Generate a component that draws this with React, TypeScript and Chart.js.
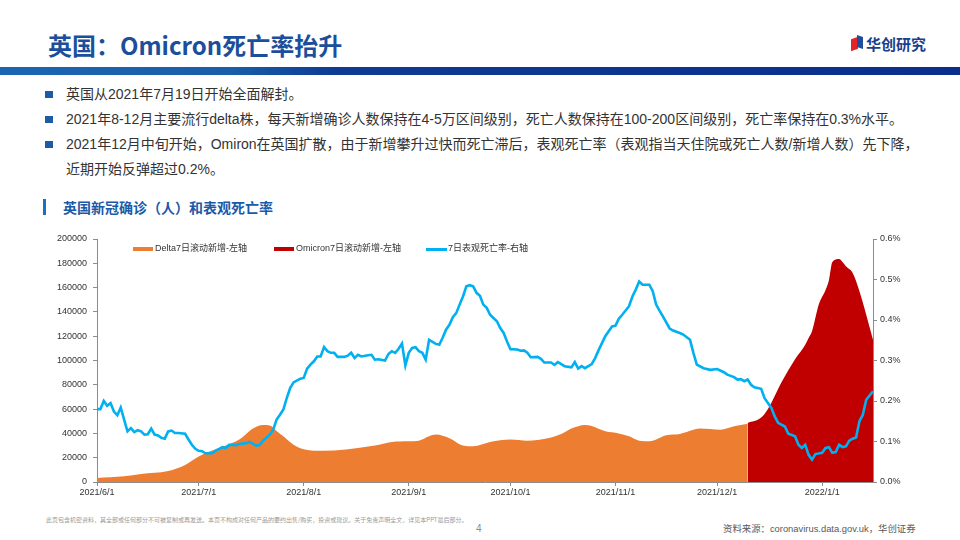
import React, { useEffect, useRef } from "react";
import { Chart, registerables } from "chart.js";

Chart.register(...registerables);

// ---------- data ----------
const startDate = Date.UTC(2021, 5, 1);
const tickLabels = ["2021/6/1", "2021/7/1", "2021/8/1", "2021/9/1", "2021/10/1", "2021/11/1", "2021/12/1", "2022/1/1"];
const lastDay = 229; // 2022/1/16

const deltaDays = [0, 8, 13, 21, 26, 30, 33, 37, 42, 46, 49, 51, 53, 55, 58, 61, 64, 70, 77, 82, 87, 92, 95, 98, 100, 104, 108, 111, 116, 122, 127, 133, 137, 140, 144, 146, 150, 154, 157, 160, 163, 168, 172, 178, 184, 188, 192];
const deltaCases = [3300, 4700, 6600, 9000, 14000, 21000, 25000, 29000, 35000, 44000, 47000, 46500, 42000, 37600, 30700, 27000, 25800, 26000, 28000, 30000, 33000, 33500, 34000, 37600, 39000, 36000, 30000, 29400, 33000, 35000, 34000, 36000, 39500, 44000, 47000, 46000, 41700, 40000, 37600, 34000, 33500, 38400, 39500, 44000, 43000, 45800, 48000];

const omicronDays = [192, 196, 198, 202, 206, 209, 210, 211, 213, 215, 216, 217, 219, 220, 221, 223, 225, 227, 229];
const omicronCases = [48500, 53000, 60000, 82000, 101000, 113000, 118500, 124000, 146000, 158000, 166000, 181000, 183500, 181000, 177500, 172000, 157000, 137700, 117000];

const rateDays = [0, 1, 2, 3, 4, 5, 6, 7, 8, 9, 10, 11, 12, 13, 14, 15, 16, 17, 18, 19, 20, 21, 22, 23, 24, 26, 27, 28, 29, 30, 31, 32, 34, 35, 37, 38, 39, 41, 42, 44, 45, 47, 48, 49, 51, 52, 53, 54, 55, 56, 57, 58, 60, 61, 62, 63, 64, 65, 66, 67, 68, 69, 70, 71, 73, 74, 75, 76, 77, 78, 80, 81, 82, 83, 85, 86, 87, 88, 89, 90, 91, 92, 93, 94, 95, 96, 97, 98, 100, 101, 102, 103, 104, 105, 106, 107, 108, 109, 110, 111, 112, 113, 114, 115, 116, 117, 118, 119, 120, 121, 122, 124, 125, 126, 127, 128, 130, 131, 132, 134, 135, 136, 137, 138, 140, 141, 142, 143, 144, 146, 147, 148, 150, 151, 152, 153, 154, 155, 157, 158, 159, 160, 161, 163, 164, 165, 166, 167, 169, 170, 172, 173, 175, 176, 177, 179, 181, 183, 185, 186, 188, 189, 190, 191, 192, 193, 194, 196, 197, 199, 200, 201, 203, 204, 206, 207, 208, 209, 210, 211, 212, 214, 215, 216, 217, 218, 219, 220, 221, 222, 223, 224, 225, 226, 227, 229];
const rateValues = [0.18, 0.18, 0.2, 0.188, 0.195, 0.174, 0.165, 0.184, 0.154, 0.125, 0.133, 0.123, 0.128, 0.125, 0.117, 0.118, 0.132, 0.117, 0.115, 0.109, 0.107, 0.125, 0.127, 0.121, 0.121, 0.119, 0.105, 0.092, 0.082, 0.077, 0.076, 0.071, 0.071, 0.077, 0.086, 0.084, 0.092, 0.091, 0.094, 0.096, 0.099, 0.09, 0.091, 0.102, 0.117, 0.129, 0.154, 0.166, 0.179, 0.207, 0.232, 0.246, 0.255, 0.257, 0.28, 0.29, 0.298, 0.31, 0.31, 0.333, 0.323, 0.319, 0.319, 0.309, 0.309, 0.312, 0.319, 0.306, 0.314, 0.31, 0.313, 0.314, 0.302, 0.303, 0.3, 0.316, 0.323, 0.319, 0.329, 0.342, 0.288, 0.319, 0.331, 0.333, 0.323, 0.319, 0.302, 0.351, 0.341, 0.339, 0.356, 0.376, 0.388, 0.407, 0.417, 0.438, 0.458, 0.483, 0.486, 0.483, 0.467, 0.46, 0.438, 0.43, 0.413, 0.405, 0.397, 0.38, 0.368, 0.347, 0.328, 0.327, 0.324, 0.325, 0.319, 0.308, 0.309, 0.304, 0.295, 0.295, 0.289, 0.296, 0.291, 0.286, 0.283, 0.296, 0.28, 0.286, 0.281, 0.291, 0.306, 0.325, 0.36, 0.372, 0.384, 0.386, 0.403, 0.413, 0.434, 0.458, 0.475, 0.495, 0.487, 0.487, 0.471, 0.438, 0.423, 0.409, 0.379, 0.374, 0.368, 0.364, 0.351, 0.319, 0.29, 0.281, 0.277, 0.279, 0.271, 0.265, 0.259, 0.253, 0.254, 0.249, 0.253, 0.24, 0.234, 0.23, 0.207, 0.183, 0.162, 0.146, 0.137, 0.119, 0.113, 0.092, 0.084, 0.092, 0.067, 0.055, 0.069, 0.072, 0.084, 0.086, 0.072, 0.074, 0.092, 0.086, 0.088, 0.102, 0.107, 0.11, 0.15, 0.166, 0.203, 0.224];

const leftMax = 200000;
const leftStep = 20000;
const rightMax = 0.6;
const rightStep = 0.1;

const seriesNames = ["Delta7日滚动新增-左轴", "Omicron7日滚动新增-左轴", "7日表观死亡率-右轴"];
const seriesColors = ["#ED7D31", "#C00000", "#00B0F0"];

const bullets = [
  "英国从2021年7月19日开始全面解封。",
  "2021年8-12月主要流行delta株，每天新增确诊人数保持在4-5万区间级别，死亡人数保持在100-200区间级别，死亡率保持在0.3%水平。",
  "2021年12月中旬开始，Omiron在英国扩散，由于新增攀升过快而死亡滞后，表观死亡率（表观指当天住院或死亡人数/新增人数）先下降，",
];
const bulletContinuation = "近期开始反弹超过0.2%。";

// ---------- helpers ----------
const dayOf = (s: string) => {
  const [y, m, d] = s.split("/").map(Number);
  return Math.round((Date.UTC(y, m - 1, d) - startDate) / 86400000);
};
const tickDays = tickLabels.map(dayOf);
const toPoints = (xs: number[], ys: number[]) => xs.map((x, i) => ({ x, y: ys[i] }));

const LATIN = '"Liberation Sans", Arial, "Noto Sans CJK SC", sans-serif';
const CJK = '"Noto Sans CJK SC", "Liberation Sans", sans-serif';
const axisFont = { family: LATIN, size: 9 };
const axisColor = "#8c8c8c";

function UKChart() {
  const ref = useRef<HTMLCanvasElement>(null);
  useEffect(() => {
    const chart = new Chart(ref.current!, {
      type: "line",
      data: {
        datasets: [
          {
            label: seriesNames[2],
            data: toPoints(rateDays, rateValues),
            yAxisID: "yR",
            borderColor: seriesColors[2],
            borderWidth: 2.6,
            pointRadius: 0,
            fill: false,
            tension: 0,
            order: 0,
          },
          {
            label: seriesNames[0],
            data: toPoints(deltaDays, deltaCases),
            yAxisID: "yL",
            borderColor: seriesColors[0],
            backgroundColor: seriesColors[0],
            borderWidth: 0,
            pointRadius: 0,
            fill: "origin",
            cubicInterpolationMode: "monotone",
            order: 2,
          },
          {
            label: seriesNames[1],
            data: toPoints(omicronDays, omicronCases),
            yAxisID: "yL",
            borderColor: seriesColors[1],
            backgroundColor: seriesColors[1],
            borderWidth: 0,
            pointRadius: 0,
            fill: "origin",
            cubicInterpolationMode: "monotone",
            order: 1,
          },
        ],
      },
      options: {
        animation: false,
        responsive: false,
        layout: { padding: { top: 14, left: 0, right: 0, bottom: 0 } },
        plugins: { legend: { display: false }, tooltip: { enabled: false } },
        scales: {
          x: {
            type: "linear",
            min: 0,
            max: lastDay,
            afterBuildTicks: (s: any) => {
              s.ticks = tickDays.map((v) => ({ value: v }));
            },
            afterFit: (s: any) => {
              s.height = 18;
            },
            ticks: {
              autoSkip: false,
              maxRotation: 0,
              padding: 1,
              font: axisFont,
              color: "#333",
              callback: (v: any) => {
                const i = tickDays.indexOf(Number(v));
                return i >= 0 ? tickLabels[i] : "";
              },
            },
            grid: { display: true, drawOnChartArea: false, drawTicks: true, tickLength: 4, color: axisColor },
            border: { display: true, color: axisColor },
          },
          yL: {
            position: "left",
            min: 0,
            max: leftMax,
            afterFit: (s: any) => {
              s.width = 57;
            },
            ticks: {
              stepSize: leftStep,
              font: axisFont,
              color: "#333",
              padding: 6,
              callback: (v: any) => String(Math.round(Number(v))),
            },
            grid: { display: true, drawOnChartArea: false, drawTicks: true, tickLength: 4, color: axisColor },
            border: { display: true, color: axisColor },
          },
          yR: {
            position: "right",
            min: 0,
            max: rightMax,
            afterFit: (s: any) => {
              s.width = 42;
            },
            ticks: {
              stepSize: rightStep,
              font: axisFont,
              color: "#333",
              padding: 3,
              callback: (v: any) => Number(v).toFixed(1) + "%",
            },
            grid: { display: true, drawOnChartArea: false, drawTicks: true, tickLength: 4, color: axisColor },
            border: { display: true, color: axisColor },
          },
        },
      },
    } as any);
    return () => chart.destroy();
  }, []);
  return <canvas ref={ref} width={875} height={275} style={{ position: "absolute", left: 40, top: 225, width: 875, height: 275 }} />;
}

function Legend() {
  const items = [
    { x: 133, tx: 155, kind: "box" },
    { x: 274, tx: 296, kind: "box" },
    { x: 426, tx: 448, kind: "line" },
  ];
  return (
    <>
      {items.map((it, i) => (
        <React.Fragment key={i}>
          <div
            style={{
              position: "absolute",
              left: it.x,
              top: it.kind === "box" ? 247 : 248,
              width: it.kind === "box" ? 20 : 21,
              height: it.kind === "box" ? 4 : 2.5,
              background: seriesColors[i],
            }}
          />
          <div
            style={{
              position: "absolute",
              left: it.tx,
              top: 242,
              height: 12,
              lineHeight: "12px",
              fontSize: 9,
              fontFamily: LATIN,
              color: "#333",
              whiteSpace: "nowrap",
            }}
          >
            {seriesNames[i]}
          </div>
        </React.Fragment>
      ))}
    </>
  );
}

export default function App() {
  const textStyle: React.CSSProperties = {
    position: "absolute",
    left: 66,
    fontSize: 14,
    lineHeight: "20px",
    height: 20,
    fontFamily: LATIN,
    color: "#333",
    whiteSpace: "nowrap",
  };
  return (
    <div style={{ position: "absolute", left: 0, top: 0, width: 960, height: 540, background: "#fff", overflow: "hidden" }}>
      {/* title */}
      <div
        style={{
          position: "absolute",
          left: 48,
          top: 29,
          fontSize: 24,
          lineHeight: "32px",
          fontWeight: 700,
          fontFamily: CJK,
          color: "#1B4F9C",
          whiteSpace: "nowrap",
        }}
      >
        英国：Omicron死亡率抬升
      </div>
      {/* logo */}
      <div style={{ position: "absolute", left: 851, top: 38, width: 7, height: 12, background: "#E3242B", transform: "skewY(-20deg)" }} />
      <div style={{ position: "absolute", left: 857, top: 36, width: 6, height: 12, background: "#1F4E9C", transform: "skewY(20deg)" }} />
      <div
        style={{
          position: "absolute",
          left: 866,
          top: 34,
          fontSize: 15,
          lineHeight: "20px",
          fontWeight: 700,
          fontFamily: CJK,
          color: "#1A3F8F",
          whiteSpace: "nowrap",
        }}
      >
        华创研究
      </div>
      {/* band */}
      <div
        style={{
          position: "absolute",
          left: 0,
          top: 67,
          width: 960,
          height: 8,
          background: "linear-gradient(90deg, #1c66b1 0%, #1a5ea9 24%, #0e3b93 35%, #0a2e8c 100%)",
        }}
      />
      {/* bullets */}
      {bullets.map((b, i) => (
        <React.Fragment key={i}>
          <div style={{ position: "absolute", left: 45, top: 91 + i * 25, width: 8, height: 7, background: "#1F5AA6" }} />
          <div style={{ ...textStyle, top: 84 + i * 25 }}>{b}</div>
        </React.Fragment>
      ))}
      <div style={{ ...textStyle, top: 84 + 3 * 25 }}>{bulletContinuation}</div>
      {/* chart title */}
      <div style={{ position: "absolute", left: 43, top: 199, width: 3, height: 16, background: "#1E6FC0" }} />
      <div
        style={{
          position: "absolute",
          left: 63,
          top: 197,
          fontSize: 14,
          lineHeight: "20px",
          fontWeight: 700,
          fontFamily: CJK,
          color: "#1B5AA8",
          whiteSpace: "nowrap",
        }}
      >
        英国新冠确诊（人）和表观死亡率
      </div>
      <UKChart />
      <Legend />
      {/* footer */}
      <div
        style={{
          position: "absolute",
          left: 46,
          top: 516,
          fontSize: 6,
          lineHeight: "8px",
          fontFamily: CJK,
          color: "#9a9a9a",
          whiteSpace: "nowrap",
        }}
      >
        此页包含机密资料，其全部或任何部分不可被复制或再发送。本页不构成对任何产品的要约出售/购买，投资或建议。关于免责声明全文，详见本PPT最后部分。
      </div>
      <div style={{ position: "absolute", left: 476, top: 523, fontSize: 10, lineHeight: "12px", fontFamily: LATIN, color: "#8c8c8c" }}>4</div>
      <div
        style={{
          position: "absolute",
          left: 723,
          top: 522,
          fontSize: 9.4,
          lineHeight: "14px",
          fontFamily: LATIN,
          color: "#595959",
          whiteSpace: "nowrap",
        }}
      >
        资料来源：coronavirus.data.gov.uk，华创证券
      </div>
    </div>
  );
}
